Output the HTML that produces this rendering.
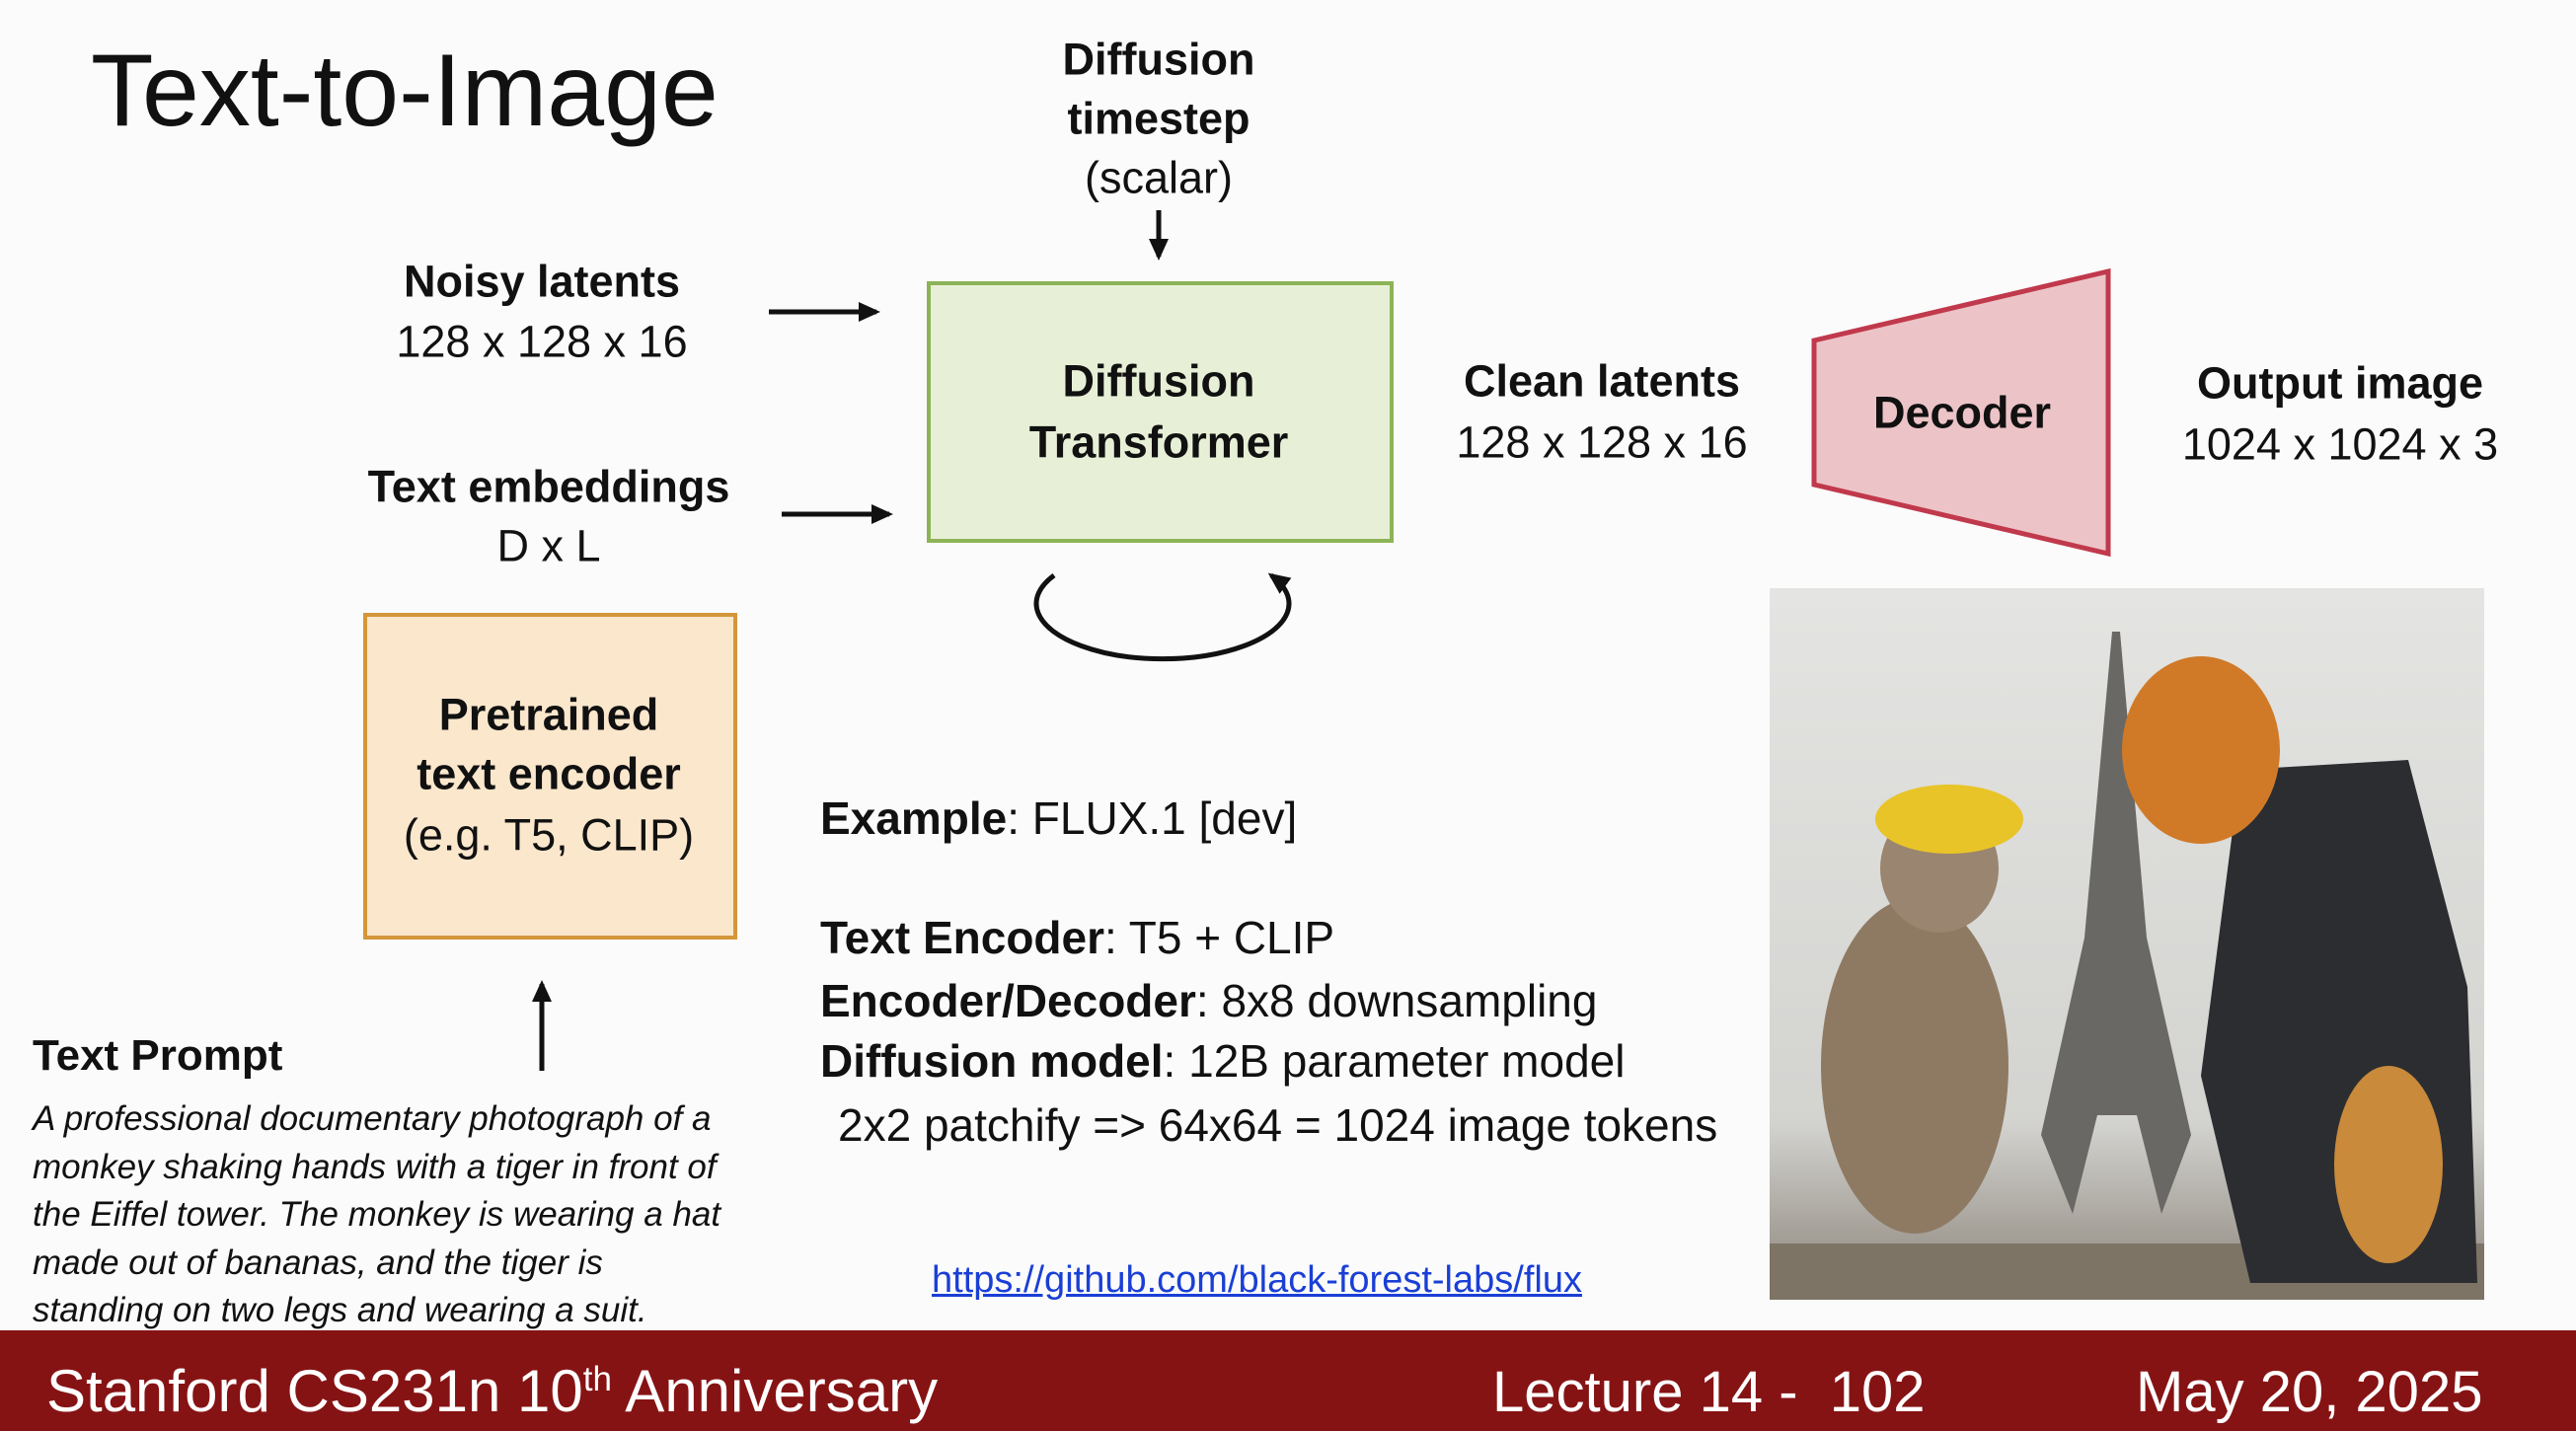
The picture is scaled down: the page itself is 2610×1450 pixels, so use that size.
<!DOCTYPE html>
<html><head><meta charset="utf-8"><style>
body{margin:0;width:2610px;height:1450px;background:#fbfbfb;position:relative;overflow:hidden;font-family:"Liberation Sans",sans-serif;color:#111}
.t{position:absolute;white-space:nowrap;line-height:1}
.c{transform:translate(-50%,-50%)}
.b{font-weight:bold}
</style></head><body>
<div style="position:absolute;left:939px;top:285px;width:465px;height:257px;background:#e7f0d7;border:4px solid #8db357"></div>
<div style="position:absolute;left:368px;top:621px;width:371px;height:323px;background:#fbe7cc;border:4px solid #d4963a"></div>

<svg style="position:absolute;left:0;top:0" width="2610" height="1450">
<defs><marker id="a" markerWidth="22" markerHeight="20" refX="18" refY="10" orient="auto" markerUnits="userSpaceOnUse" viewBox="0 0 22 20"><path d="M0,0 L22,10 L0,20z" fill="#111"/></marker>
<linearGradient id="sky" x1="0" y1="0" x2="0" y2="1"><stop offset="0" stop-color="#e4e4e2"/><stop offset="0.75" stop-color="#d3d3d0"/><stop offset="1" stop-color="#8a8378"/></linearGradient></defs>
<g stroke="#111" stroke-width="5" fill="none">
<line x1="1174" y1="213" x2="1174" y2="260" marker-end="url(#a)"/>
<line x1="779" y1="316" x2="888" y2="316" marker-end="url(#a)"/>
<line x1="792" y1="521" x2="901" y2="521" marker-end="url(#a)"/>
<line x1="549" y1="1085" x2="549" y2="997" marker-end="url(#a)"/>
<path d="M1068,583 A128,56 0 1 0 1288,583" marker-end="url(#a)"/>
</g>
<polygon points="1838,345 2136,275 2136,561 1838,491" fill="#ecc4c7" stroke="#c1394c" stroke-width="5"/>
<rect x="1793" y="596" width="724" height="721" fill="url(#sky)"/>
<polygon points="2140,640 2148,640 2175,950 2220,1150 2190,1230 2165,1130 2125,1130 2100,1230 2068,1150 2112,950" fill="#6a6864"/>
<rect x="1793" y="1260" width="724" height="57" fill="#7d7466"/>
<ellipse cx="1940" cy="1080" rx="95" ry="170" fill="#8e7a63"/>
<ellipse cx="1965" cy="880" rx="60" ry="65" fill="#9a8570"/>
<ellipse cx="1975" cy="830" rx="75" ry="35" fill="#e8c428"/>
<path d="M2270,780 L2440,770 L2500,1000 L2510,1300 L2280,1300 L2230,1090z" fill="#2b2d31"/>
<ellipse cx="2230" cy="760" rx="80" ry="95" fill="#d07a28"/>
<ellipse cx="2420" cy="1180" rx="55" ry="100" fill="#c98a3b"/>
<rect x="0" y="1348" width="2610" height="102" fill="#861314"/>
</svg>

<div class="t" style="left:92px;top:40px;font-size:104px">Text-to-Image</div>

<div class="t c b" style="left:1174px;top:60px;font-size:45px">Diffusion</div>
<div class="t c b" style="left:1174px;top:120px;font-size:45px">timestep</div>
<div class="t c" style="left:1174px;top:180px;font-size:45px">(scalar)</div>

<div class="t c b" style="left:549px;top:285px;font-size:45px">Noisy latents</div>
<div class="t c" style="left:549px;top:346px;font-size:45px">128 x 128 x 16</div>
<div class="t c b" style="left:556px;top:493px;font-size:45px">Text embeddings</div>
<div class="t c" style="left:556px;top:553px;font-size:45px">D x L</div>

<div class="t c b" style="left:1174px;top:386px;font-size:45px">Diffusion</div>
<div class="t c b" style="left:1174px;top:448px;font-size:45px">Transformer</div>

<div class="t c b" style="left:1623px;top:386px;font-size:45px">Clean latents</div>
<div class="t c" style="left:1623px;top:448px;font-size:45px">128 x 128 x 16</div>

<div class="t c b" style="left:1988px;top:418px;font-size:45px">Decoder</div>
<div class="t c b" style="left:2371px;top:388px;font-size:45px">Output image</div>
<div class="t c" style="left:2371px;top:450px;font-size:45px">1024 x 1024 x 3</div>

<div class="t c b" style="left:556px;top:724px;font-size:45px">Pretrained</div>
<div class="t c b" style="left:556px;top:784px;font-size:45px">text encoder</div>
<div class="t c" style="left:556px;top:846px;font-size:45px">(e.g. T5, CLIP)</div>

<div class="t b" style="left:33px;top:1048px;font-size:44px">Text Prompt</div>
<div class="t" style="left:33px;top:1110px;font-size:35px;font-style:italic;line-height:48.5px">A professional documentary photograph of a<br>monkey shaking hands with a tiger in front of<br>the Eiffel tower. The monkey is wearing a hat<br>made out of bananas, and the tiger is<br>standing on two legs and wearing a suit.</div>

<div class="t" style="left:831px;top:806px;font-size:46px"><b>Example</b>: FLUX.1 [dev]</div>
<div class="t" style="left:831px;top:927px;font-size:46px"><b>Text Encoder</b>: T5 + CLIP</div>
<div class="t" style="left:831px;top:991px;font-size:46px"><b>Encoder/Decoder</b>: 8x8 downsampling</div>
<div class="t" style="left:831px;top:1052px;font-size:46px"><b>Diffusion model</b>: 12B parameter model</div>
<div class="t" style="left:849px;top:1117px;font-size:46px">2x2 patchify =&gt; 64x64 = 1024 image tokens</div>
<div class="t" style="left:944px;top:1278px;font-size:38px;color:#1a3fd6;text-decoration:underline">https://github.com/black-forest-labs/flux</div>

<div class="t" style="left:47px;top:1380px;font-size:60px;color:#fff">Stanford CS231n 10<sup style="font-size:35px">th</sup> Anniversary</div>
<div class="t" style="left:1512px;top:1382px;font-size:58px;color:#fff">Lecture 14 -&nbsp; 102</div>
<div class="t" style="left:2164px;top:1382px;font-size:58px;color:#fff">May 20, 2025</div>
</body></html>
